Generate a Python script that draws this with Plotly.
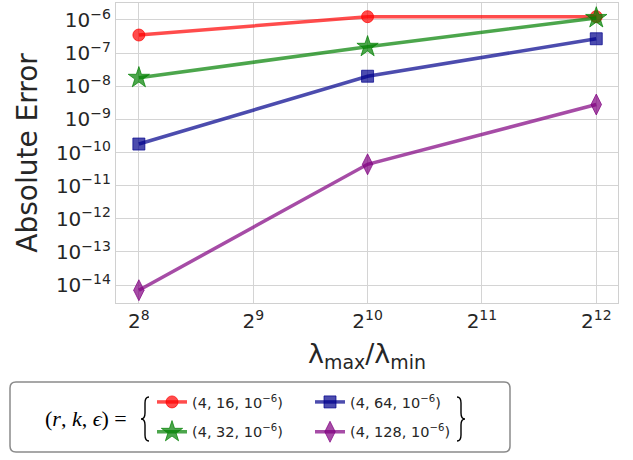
import plotly.graph_objects as go

# ---- data ----
lam_ratio = [256, 1024, 4096]
x_tick_vals = [256, 512, 1024, 2048, 4096]
x_tick_text = ["2<sup>8</sup>", "2<sup>9</sup>", "2<sup>10</sup>", "2<sup>11</sup>", "2<sup>12</sup>"]
y_tick_vals = [1e-6, 1e-7, 1e-8, 1e-9, 1e-10, 1e-11, 1e-12, 1e-13, 1e-14]
y_tick_text = ["10<sup>−6</sup>", "10<sup>−7</sup>", "10<sup>−8</sup>", "10<sup>−9</sup>", "10<sup>−10</sup>",
               "10<sup>−11</sup>", "10<sup>−12</sup>", "10<sup>−13</sup>", "10<sup>−14</sup>"]

err_k16 = [3.5e-7, 1.25e-6, 1.25e-6]
err_k32 = [1.8e-8, 1.55e-7, 1.15e-6]
err_k64 = [1.8e-10, 2.0e-8, 2.7e-7]
err_k128 = [7e-15, 4.4e-11, 2.8e-9]

names = ["(4, 16, 10<sup>−6</sup>)", "(4, 32, 10<sup>−6</sup>)",
         "(4, 64, 10<sup>−6</sup>)", "(4, 128, 10<sup>−6</sup>)"]

series = [
    (err_k16, names[0], "rgba(255,0,0,0.7)", "circle", 12, "legend"),
    (err_k32, names[1], "rgba(0,128,0,0.7)", "star", 16, "legend"),
    (err_k64, names[2], "rgba(0,0,139,0.7)", "square", 12, "legend2"),
    (err_k128, names[3], "rgba(128,0,128,0.7)", "diamond-tall", 15, "legend2"),
]

FONT = "DejaVu Sans"
fig = go.Figure()
for i, (ys, nm, col, sym, sz, lg) in enumerate(series):
    fig.add_trace(go.Scatter(
        x=lam_ratio, y=ys, mode="lines+markers", name=nm,
        line=dict(color=col, width=3.5),
        marker=dict(symbol=sym, size=sz, color=col, line=dict(width=1, color=col)),
        legend=lg, legendgroup=f"g{i}",
    ))

W, H = 633, 460
L, R, T, B = 116, 15, 3, 157
pw, ph = W - L - R, H - T - B

def px(x):
    return (x - L) / pw

def py(y):
    return (H - B - y) / ph

fig.update_layout(
    width=W, height=H,
    margin=dict(l=L, r=R, t=T, b=B),
    paper_bgcolor="white", plot_bgcolor="white",
    font=dict(family=FONT, color="#262626"),
    showlegend=True,
    legend=dict(x=px(152), y=py(386), xanchor="left", yanchor="top",
                bgcolor="rgba(0,0,0,0)", font=dict(size=14.5, family=FONT, color="#262626"),
                tracegroupgap=8, itemwidth=30),
    legend2=dict(x=px(310), y=py(386), xanchor="left", yanchor="top",
                 bgcolor="rgba(0,0,0,0)", font=dict(size=14.5, family=FONT, color="#262626"),
                 tracegroupgap=8, itemwidth=30),
    xaxis=dict(
        type="log", automargin=False,
        range=[7.8 * 0.30103, 12.19 * 0.30103],
        tickvals=x_tick_vals, ticktext=x_tick_text,
        tickfont=dict(size=20, family=FONT, color="#262626"),
        showgrid=True, gridcolor="#d4d4d4", gridwidth=1,
        showline=True, linecolor="#d0d0d0", linewidth=1.2, mirror=True,
        ticks="", zeroline=False,
        title=dict(text="λ<sub>max</sub>/λ<sub>min</sub>", font=dict(size=27, family=FONT, color="#262626"),
                   standoff=12),
    ),
    yaxis=dict(
        type="log", automargin=False,
        range=[-14.54, -5.49],
        tickvals=y_tick_vals, ticktext=y_tick_text,
        tickfont=dict(size=20, family=FONT, color="#262626"),
        showgrid=True, gridcolor="#d4d4d4", gridwidth=1,
        showline=True, linecolor="#d0d0d0", linewidth=1.2, mirror=True,
        ticks="", zeroline=False,
        title=dict(text="Absolute Error", font=dict(size=28, family=FONT, color="#262626"),
                   standoff=10),
    ),
)

# legend frame (rounded)
x0, x1, y0, y1, r = px(10), px(510), py(382), py(452), 6
rx, ry = r / pw, r / ph
path = (f"M {x0+rx},{y0} L {x1-rx},{y0} Q {x1},{y0} {x1},{y0-ry} "
        f"L {x1},{y1+ry} Q {x1},{y1} {x1-rx},{y1} L {x0+rx},{y1} Q {x0},{y1} {x0},{y1+ry} "
        f"L {x0},{y0-ry} Q {x0},{y0} {x0+rx},{y0} Z")
fig.add_shape(type="path", xref="paper", yref="paper", path=path,
              line=dict(color="#8a8a8a", width=1.5), fillcolor="white", layer="below")


def brace_path(xc, ytop, ybot, w, left=True):
    s = -1 if left else 1
    ym = (ytop + ybot) / 2
    xo = xc - s * w / 2
    xi = xc
    xt = xc + s * w / 2
    pts = [
        ("M", [(xo, ytop)]),
        ("Q", [(xi, ytop), (xi, ytop + 6)]),
        ("L", [(xi, ym - 6)]),
        ("Q", [(xi, ym), (xt, ym)]),
        ("Q", [(xi, ym), (xi, ym + 6)]),
        ("L", [(xi, ybot - 6)]),
        ("Q", [(xi, ybot), (xo, ybot)]),
    ]
    out = []
    for cmd, ps in pts:
        out.append(cmd + " " + " ".join(f"{px(a)},{py(b)}" for a, b in ps))
    return " ".join(out)


fig.add_shape(type="path", xref="paper", yref="paper", path=brace_path(145, 397, 441, 8, left=True),
              line=dict(color="black", width=1.4))
fig.add_shape(type="path", xref="paper", yref="paper", path=brace_path(461, 397, 441, 8, left=False),
              line=dict(color="black", width=1.4))

fig.add_annotation(xref="paper", yref="paper", x=px(129), y=py(418), xanchor="right", yanchor="middle",
                   text="(<i>r</i>, <i>k</i>, <i>ϵ</i>) =", showarrow=False,
                   font=dict(size=22, family="Liberation Serif", color="black"))

fig.write_html("out.html", config={"displayModeBar": False},
               post_script="document.body.style.margin='0';document.body.style.overflow='hidden';")
